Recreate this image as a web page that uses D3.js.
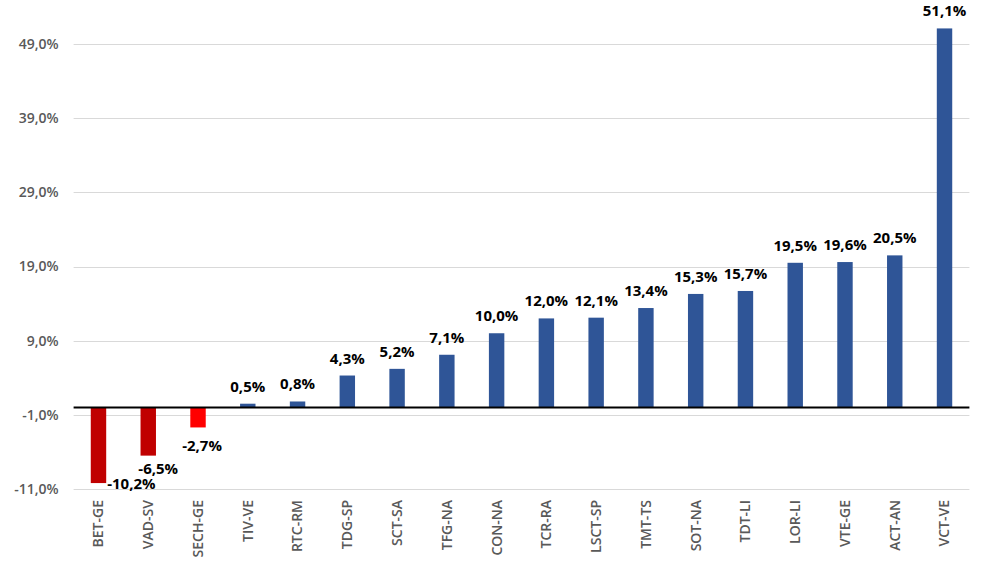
<!DOCTYPE html>
<html><head><meta charset="utf-8">
<script src="https://cdn.jsdelivr.net/npm/d3@7"></script>
<style>body{margin:0;background:#fff}svg{display:block}</style>
</head><body>
<svg id="c" width="992" height="570"></svg>
<script>
const categories = ["BET-GE","VAD-SV","SECH-GE","TIV-VE","RTC-RM","TDG-SP","SCT-SA","TFG-NA","CON-NA","TCR-RA","LSCT-SP","TMT-TS","SOT-NA","TDT-LI","LOR-LI","VTE-GE","ACT-AN","VCT-VE"];
const values = [-10.2,-6.5,-2.7,0.5,0.8,4.3,5.2,7.1,10.0,12.0,12.1,13.4,15.3,15.7,19.5,19.6,20.5,51.1];
const yTicks = [-11,-1,9,19,29,39,49];

const svg = d3.select("#c");
const x = d3.scaleBand().domain(categories).range([73.6, 969.4]).paddingInner(0.69).paddingOuter(0.345);
const y = d3.scaleLinear().domain([-11, 49]).range([489, 44]);
const fmt = v => v.toFixed(1).replace(".", ",") + "%";
const color = v => v >= 0 ? "#2F5597" : (v < -5 ? "#C00000" : "#FF0000");

// gridlines
svg.append("g").selectAll("line").data(yTicks).join("line")
  .attr("x1", 73.6).attr("x2", 969.4)
  .attr("y1", d => Math.round(y(d)) + 0.5).attr("y2", d => Math.round(y(d)) + 0.5)
  .attr("stroke", "#d9d9d9").attr("stroke-width", 1);

// y axis labels
const yAxis = d3.axisLeft(y).tickValues(yTicks).tickFormat(fmt).tickSize(0).tickPadding(15);
const gy = svg.append("g").attr("transform", "translate(73.6,0)").call(yAxis);
gy.select(".domain").remove();
gy.selectAll("text").attr("fill", "#595959").style("font-family", "'Open Sans', sans-serif")
  .style("font-size", "14px").style("font-weight", "600");

// bars
const data = categories.map((c, i) => ({c, v: values[i], i}));
svg.append("g").selectAll("rect").data(data).join("rect")
  .attr("x", d => x(d.c)).attr("width", x.bandwidth())
  .attr("y", d => y(Math.max(0, d.v)))
  .attr("height", d => Math.abs(y(d.v) - y(0)))
  .attr("fill", d => color(d.v));

// zero line
svg.append("line").attr("x1", 73.6).attr("x2", 969.4)
  .attr("y1", y(0)).attr("y2", y(0)).attr("stroke", "#000").attr("stroke-width", 2);

// x axis labels
const xAxis = d3.axisBottom(x).tickSize(0).tickPadding(0);
const gx = svg.append("g").attr("transform", "translate(0,500)").call(xAxis);
gx.select(".domain").remove();
gx.selectAll("text")
  .attr("transform", "rotate(-90)").attr("x", 0).attr("y", 0).attr("dy", "0.35em")
  .attr("text-anchor", "end")
  .attr("fill", "#595959").style("font-family", "'Open Sans', sans-serif")
  .style("font-size", "14px").style("font-weight", "600");

// value labels
const negShift = [[9, 1], [10, 7], [4, 13]]; // layout tweaks for negative labels [dx, dy]
const lab = svg.append("g").style("font-family", "'Open Sans', sans-serif")
  .style("font-size", "15px").style("font-weight", "700").attr("fill", "#000");
data.forEach(d => {
  const cx = x(d.c) + x.bandwidth() / 2;
  if (d.v >= 0) {
    lab.append("text").attr("x", cx).attr("y", y(d.v) - 12)
      .attr("text-anchor", "middle").text(fmt(d.v));
  } else {
    const s = negShift[d.i];
    if (d.i === 0) {
      lab.append("text").attr("x", x(d.c) + x.bandwidth() + 1).attr("y", y(d.v) + 6)
        .attr("text-anchor", "start").text(fmt(d.v));
    } else {
      lab.append("text").attr("x", cx + s[0]).attr("y", y(d.v) + s[1] + 11)
        .attr("text-anchor", "middle").text(fmt(d.v));
    }
  }
});
</script>
</body></html>
